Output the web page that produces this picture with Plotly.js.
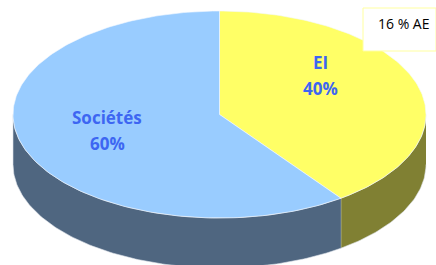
<!DOCTYPE html>
<html><head><meta charset="utf-8">
<script src="https://cdn.plot.ly/plotly-3.0.1.min.js"></script>
<style>html,body{margin:0;padding:0;background:#fff}#chart{width:436px;height:265px}</style>
</head><body><div id="chart"></div>
<script>
// Data
const categories = ['EI', 'Sociétés'];
const shares = [40, 60];
const noteText = '16 % AE';

// Styles / geometry
const topColors = ['#FFFF66', '#99CCFF'];
const sideColors = ['#808033', '#4F6680'];
const cx = 219.5, cy = 114.5, rx = 206.5, ry = 103.5, depth = 50;
const labelPos = [[320, 62, 88], [107, 117, 143]];

const total = shares.reduce((a, b) => a + b, 0);
const pt = (deg, off) => {
  const r = deg * Math.PI / 180;
  return [cx + rx * Math.sin(r), cy - ry * Math.cos(r) + (off || 0)];
};
const arc = (a, b, off) => {
  const xs = [], ys = [];
  const n = Math.max(2, Math.ceil(Math.abs(b - a) / 1));
  for (let i = 0; i <= n; i++) {
    const p = pt(a + (b - a) * i / n, off);
    xs.push(p[0]); ys.push(p[1]);
  }
  return [xs, ys];
};

const labelFont = {family: '"Open Sans", Lato, sans-serif', size: 17, color: '#3D66F2', weight: 'bold'};
const sideTraces = [], topTraces = [], annotations = [];
let start = 0;
categories.forEach((c, i) => {
  const sweep = shares[i] / total * 360;
  const a = start, b = start + sweep;
  const s0 = Math.max(a, 90), s1 = Math.min(b, 270);
  if (s1 > s0) {
    const [tx, ty] = arc(s0, s1, 0);
    const [bx, by] = arc(s1, s0, depth);
    sideTraces.push({
      type: 'scatter', mode: 'lines', x: tx.concat(bx), y: ty.concat(by),
      fill: 'toself', fillcolor: sideColors[i], line: {width: 0.6, color: '#DDE3EA'},
      hoverinfo: 'skip', showlegend: false
    });
  }
  const [ax, ay] = arc(a, b, 0);
  topTraces.push({
    type: 'scatter', mode: 'lines', x: [cx].concat(ax, [cx]), y: [cy].concat(ay, [cy]),
    fill: 'toself', fillcolor: topColors[i], line: {width: 0.6, color: '#F4F8FF'},
    hoverinfo: 'skip', showlegend: false
  });
  annotations.push({x: labelPos[i][0], y: labelPos[i][1], xref: 'x', yref: 'y', showarrow: false,
    text: c, font: labelFont});
  annotations.push({x: labelPos[i][0], y: labelPos[i][2], xref: 'x', yref: 'y', showarrow: false,
    text: Math.round(shares[i] / total * 100) + '%', font: labelFont});
  start = b;
});

annotations.push({
  x: 404, y: 23, xref: 'x', yref: 'y', showarrow: false,
  text: noteText,
  font: {family: '"Open Sans", Lato, sans-serif', size: 14, color: '#000000'}
});

const layout = {
  width: 436, height: 265,
  margin: {l: 0, r: 0, t: 0, b: 0},
  paper_bgcolor: '#FFFFFF', plot_bgcolor: '#FFFFFF',
  xaxis: {range: [0, 436], visible: false, fixedrange: true},
  yaxis: {range: [265, 0], visible: false, fixedrange: true},
  showlegend: false,
  shapes: [{
    type: 'rect', xref: 'x', yref: 'y', x0: 363, x1: 436, y0: 8, y1: 51,
    fillcolor: '#FFFFFF', line: {color: '#FFFFA0', width: 1}, layer: 'above'
  }],
  annotations: annotations
};

Plotly.newPlot('chart', sideTraces.concat(topTraces), layout, {staticPlot: true, displayModeBar: false});
</script></body></html>
